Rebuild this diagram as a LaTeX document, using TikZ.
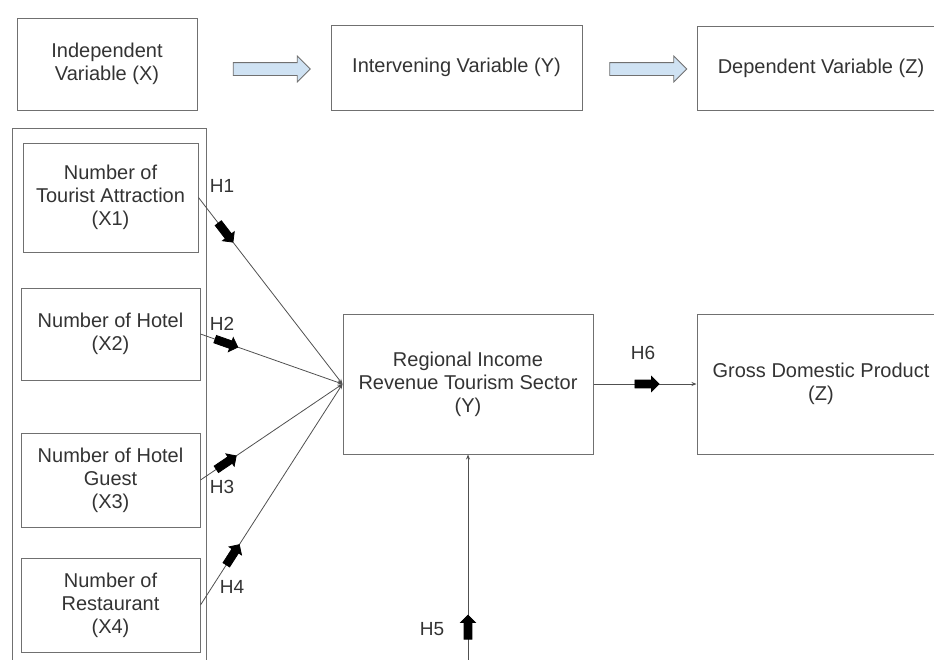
\documentclass[tikz,border=0pt]{standalone}
\usepackage{fontspec}
\setmainfont{Liberation Sans}
\usetikzlibrary{shapes.arrows,arrows.meta}
\definecolor{linegray}{HTML}{505050}
\definecolor{boxgray}{HTML}{707070}
\definecolor{textgray}{HTML}{333333}
\definecolor{paleblue}{HTML}{CFE2F3}
\begin{document}
\begin{tikzpicture}
[x=1pt, y=-1pt,
 box/.style={draw=boxgray, line width=1pt, align=center, text=textgray, font=\fontsize{20}{23}\selectfont, inner sep=0pt},
 hyp/.style={text=textgray, font=\fontsize{19}{22}\selectfont, inner sep=0pt},
 link/.style={draw=linegray, line width=0.8pt, -{Stealth[length=5pt,width=4pt]}},
 blk/.style={single arrow, fill=black, draw=black, minimum height=24pt, inner xsep=0pt, inner ysep=3.5pt, single arrow head extend=3.5pt, sloped},
 flow/.style={single arrow, fill=paleblue, draw=boxgray, line width=0.8pt, minimum height=77pt, inner xsep=0pt, inner ysep=6pt, single arrow head extend=6.5pt}]
\useasboundingbox (0,0) rectangle (934,659);
\clip (0,0) rectangle (934,659);
\node[box, minimum width=180pt, minimum height=92pt] (indep) at (107,64) {Independent\\Variable (X)};
\node[box, minimum width=251pt, minimum height=85pt] (interv) at (456.5,67.5) {Intervening Variable (Y)};
\node[box, minimum width=248pt, minimum height=84pt] (dep) at (821,68) {Dependent Variable (Z)};
\node[flow] (flow1) at (268.5,69) {};
\node[flow] (flow2) at (645,69) {};
\node[box, minimum width=194pt, minimum height=552pt, anchor=north west] (panel) at (12,128) {};
\node[box, minimum width=175pt, minimum height=109pt] (x1) at (110.5,197.5) {Number of\\Tourist Attraction\\(X1)};
\node[box, minimum width=179pt, minimum height=92pt] (x2) at (110.5,334) {Number of Hotel\\(X2)};
\node[box, minimum width=179pt, minimum height=94pt] (x3) at (110.5,480) {Number of Hotel\\Guest\\(X3)};
\node[box, minimum width=179pt, minimum height=94pt] (x4) at (110.5,605) {Number of\\Restaurant\\(X4)};
\node[box, minimum width=250pt, minimum height=140pt] (yv) at (468,384) {Regional Income\\Revenue Tourism Sector\\(Y)};
\node[box, minimum width=248pt, minimum height=140pt] (zv) at (821,384) {Gross Domestic Product\\(Z)};
\coordinate (h5start) at (468,670);
\draw[link] (x1.east) -- node[blk, pos=.18] (b1) {} (yv.west);
\draw[link] (x2.east) -- node[blk, pos=.17] (b2) {} (yv.west);
\draw[link] (x3.east) -- node[blk, pos=.17] (b3) {} (yv.west);
\draw[link] (x4.east) -- node[blk, pos=.22] (b4) {} (yv.west);
\draw[link] (h5start) -- node[blk, pos=.19] (b5) {} (yv.south);
\draw[link] (yv.east) -- node[blk, pos=.5] (b6) {} (zv.west);
\node[hyp] (h1) at (222,186) {H1};
\node[hyp] (h2) at (222,324) {H2};
\node[hyp] (h3) at (222,487) {H3};
\node[hyp] (h4) at (232,587) {H4};
\node[hyp] (h5) at (432,629) {H5};
\node[hyp] (h6) at (643,353) {H6};
\end{tikzpicture}
\end{document}
